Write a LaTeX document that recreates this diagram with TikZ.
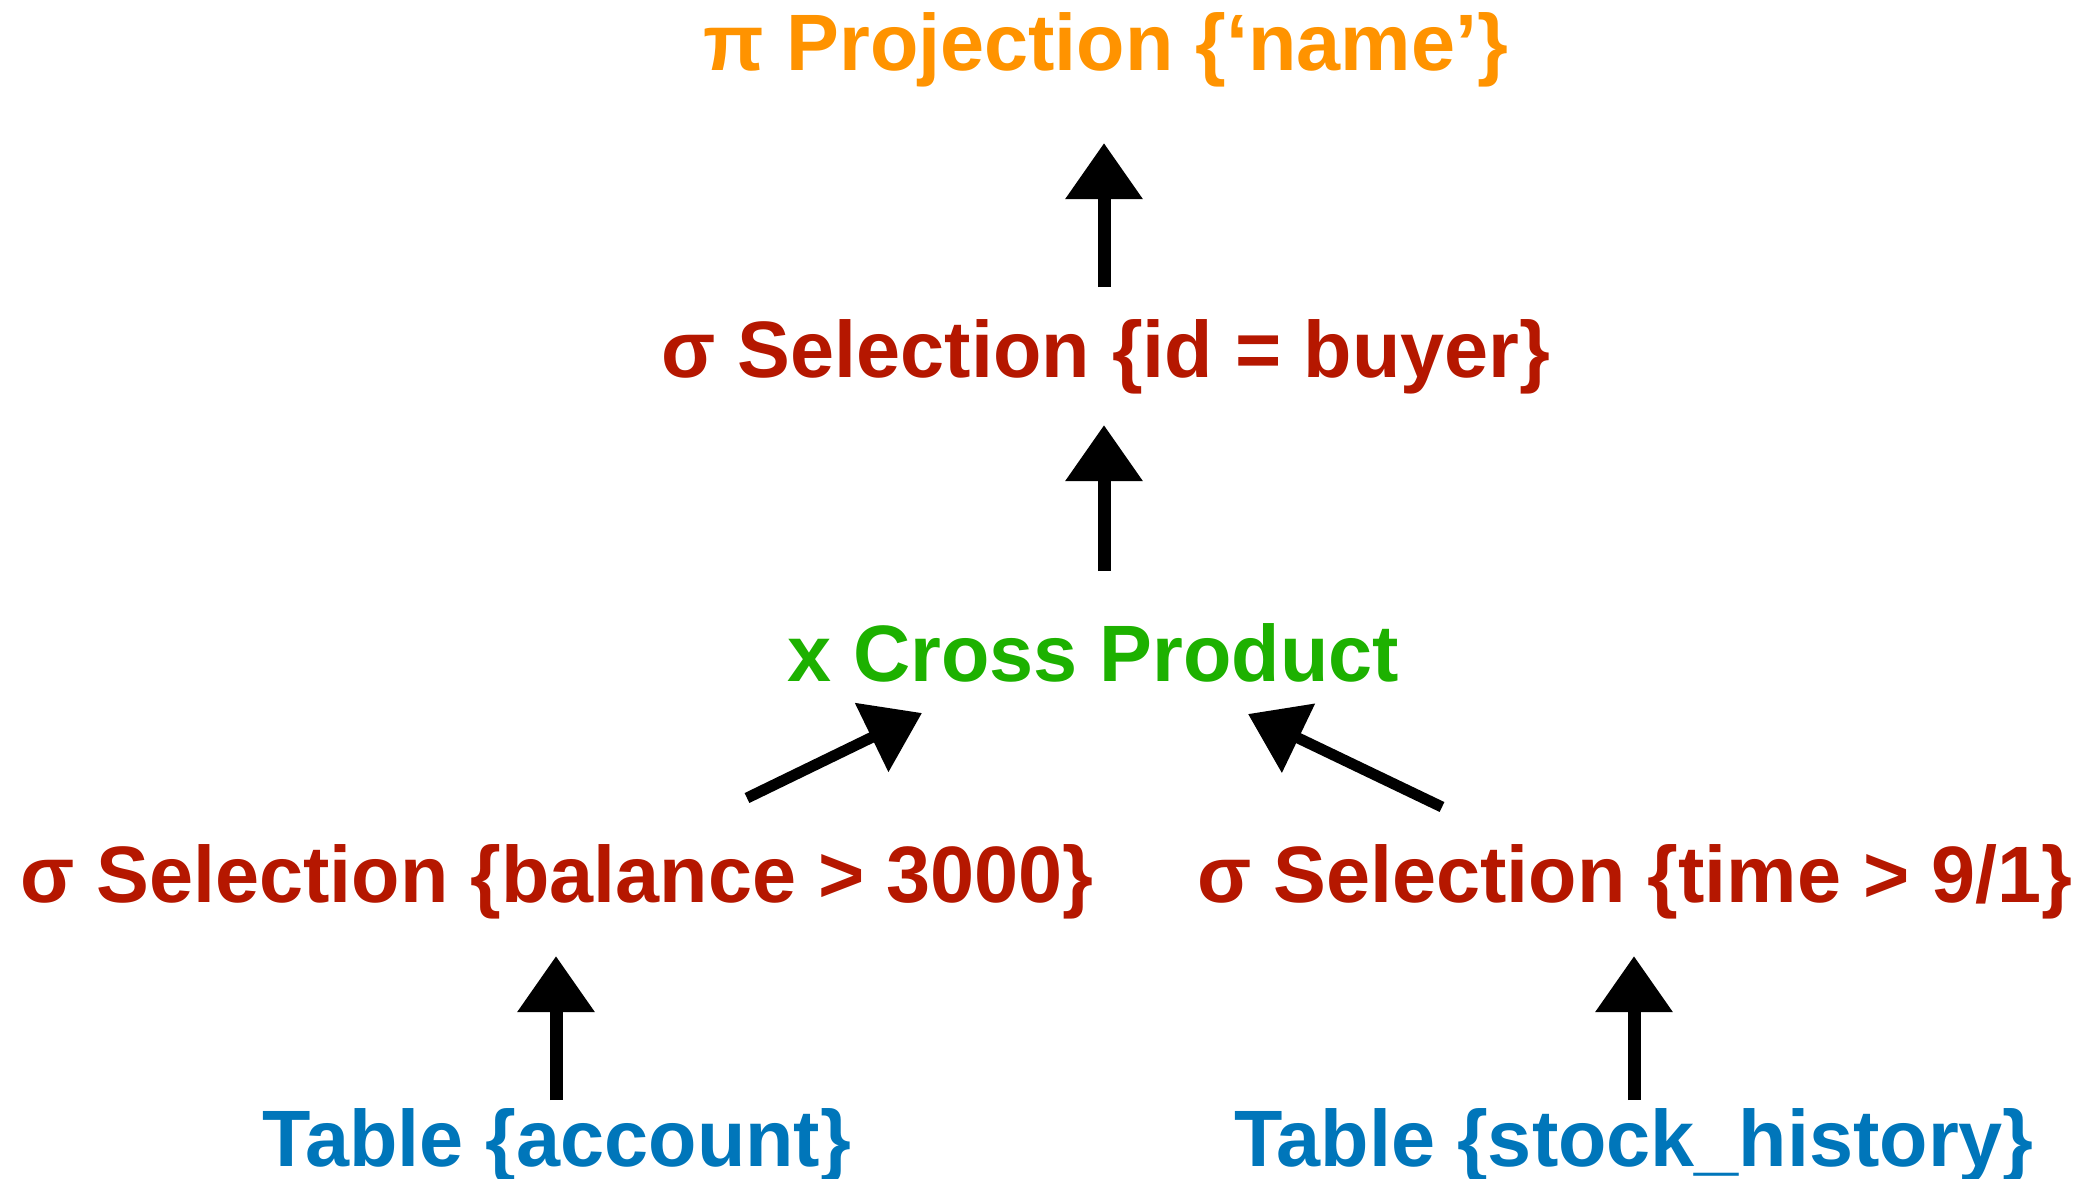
\documentclass[tikz,border=0pt]{standalone}
\usepackage{fontspec}
\setmainfont[FakeStretch=0.99]{Liberation Sans}
\usetikzlibrary{arrows.meta}

\definecolor{projorange}{HTML}{FF9300}
\definecolor{selred}{HTML}{B51700}
\definecolor{crossgreen}{HTML}{1DB100}
\definecolor{tableblue}{HTML}{0076BA}

\tikzset{
  opnode/.style={anchor=base, inner sep=0pt, font=\fontsize{80}{96}\selectfont\bfseries},
  flow/.style={draw=black, line width=13pt,
    -{Triangle[length=56pt, width=74pt]}},
  slantflow/.style={flow, line width=11pt},
}

\begin{document}
\begin{tikzpicture}[x=1pt, y=-1pt]
  \useasboundingbox (0,0) rectangle (2093,1178);

  % operator tree, root at the top
  \node[opnode, text=projorange] (proj) at (1106,70) {π Projection \{‘name’\}};
  \node[opnode, text=selred] (selid) at (1106,377) {σ Selection \{id = buyer\}};
  \node[opnode, text=crossgreen] (cross) at (1093,681) {x Cross Product};
  \node[opnode, text=selred] (selbal) at (557,902) {σ Selection \{balance > 3000\}};
  \node[opnode, text=selred] (seltime) at (1635,902) {σ Selection \{time > 9/1\}};
  \node[opnode, text=tableblue] (tacc) at (557,1166) {Table \{account\}};
  \node[opnode, text=tableblue] (tstock) at (1634,1166) {Table \{stock\_history\}};

  % arrow end points in the gaps between the operators
  \coordinate (selid-out) at (1104,287);
  \coordinate (proj-in) at (1104,143);
  \coordinate (cross-out) at (1104,571);
  \coordinate (selid-in) at (1104,425);
  \coordinate (selbal-out) at (747,798);
  \coordinate (cross-in-l) at (922,713);
  \coordinate (seltime-out) at (1442,807);
  \coordinate (cross-in-r) at (1248,714);
  \coordinate (tacc-out) at (556,1100);
  \coordinate (selbal-in) at (556,956);
  \coordinate (tstock-out) at (1634,1100);
  \coordinate (seltime-in) at (1634,956);

  \draw[flow] (selid-out) -- (proj-in);
  \draw[flow] (cross-out) -- (selid-in);
  \draw[slantflow] (selbal-out) -- (cross-in-l);
  \draw[slantflow] (seltime-out) -- (cross-in-r);
  \draw[flow] (tacc-out) -- (selbal-in);
  \draw[flow] (tstock-out) -- (seltime-in);
\end{tikzpicture}
\end{document}
